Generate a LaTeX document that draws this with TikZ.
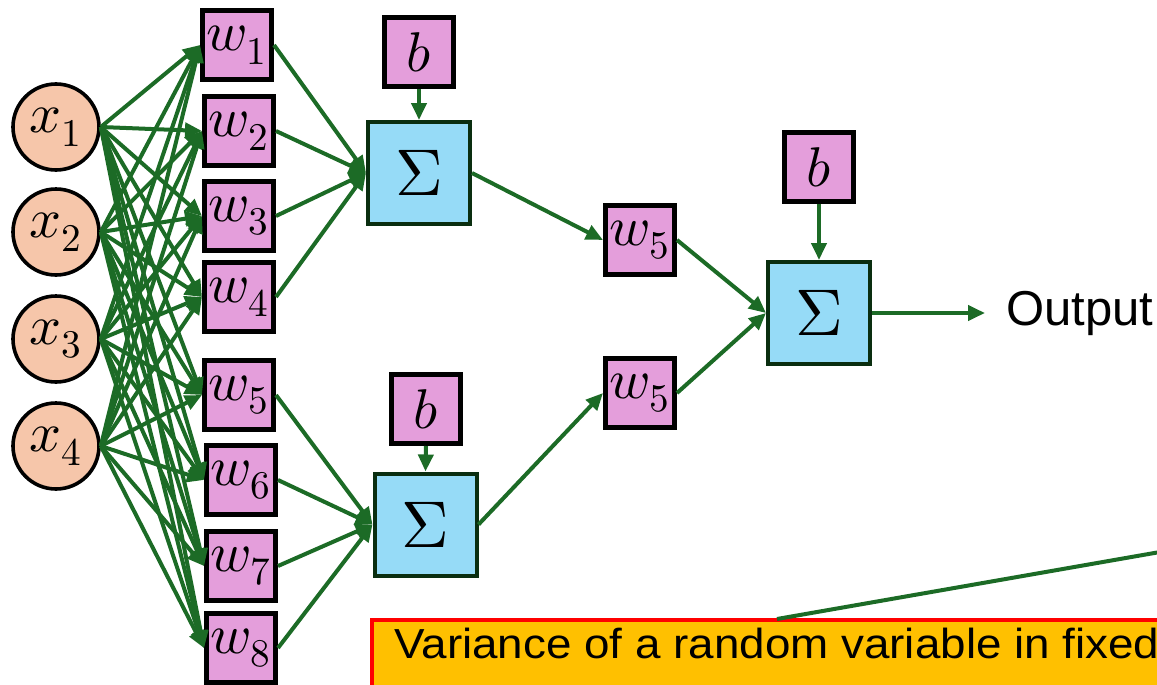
\documentclass[tikz,border=0pt]{standalone}
\usepackage{fontspec}
\usepackage{unicode-math}
\setmathfont{Latin Modern Math}
\usetikzlibrary{arrows.meta}
\newfontfamily\labelfont{Liberation Sans}
\newfontfamily\boxfont[FakeStretch=1.09]{Liberation Sans}
\definecolor{peach}{HTML}{F6C6AA}
\definecolor{wpink}{HTML}{E49EDB}
\definecolor{sblue}{HTML}{96DBF7}
\definecolor{agreen}{HTML}{1C6B26}
\definecolor{dgreen}{HTML}{0A2E10}
\definecolor{borange}{HTML}{FFC000}
\definecolor{bred}{HTML}{FF0000}
\tikzset{
  inp/.style={circle, draw=black, line width=1.8pt, fill=peach, minimum size=43pt, inner sep=0pt, font=\fontsize{28}{32}\selectfont},
  wbox/.style={rectangle, draw=black, line width=2.5pt, fill=wpink, minimum size=34.5pt, inner sep=0pt, font=\fontsize{28}{32}\selectfont},
  sbox/.style={rectangle, draw=dgreen, line width=2pt, fill=sblue, minimum size=51pt, inner sep=0pt, font=\fontsize{33}{37}\selectfont},
  conn/.style={draw=agreen, line width=2pt, -{Triangle[length=8.5pt,width=7.5pt]}},
  plainline/.style={draw=agreen, line width=2pt},
}
\begin{document}
\begin{tikzpicture}[x=0.5pt,y=-0.5pt]
\useasboundingbox (0,0) rectangle (1157,685);
% orange box (drawn first, lies at the bottom)
\fill[borange] (372,620) rectangle (1200,720);
\draw[bred, line width=2.2pt] (1200,620) -- (372,620) -- (372,720);
\node[anchor=base west, inner sep=0pt, font=\boxfont\fontsize{21}{25}\selectfont] (vartext) at (394,658) {Variance of a random variable in fixed};
\coordinate (la) at (777,619);
\coordinate (lb) at (1160,552);
\draw[plainline] (la) -- (lb);
% inputs
\node[inp] (x1) at (56,127) {$x_1$};
\node[inp] (x2) at (56,232) {$x_2$};
\node[inp] (x3) at (56,339) {$x_3$};
\node[inp] (x4) at (56,446) {$x_4$};
% weights
\node[wbox] (w1) at (237,45) {$w_1$};
\node[wbox] (w2) at (239,131) {$w_2$};
\node[wbox] (w3) at (239,216) {$w_3$};
\node[wbox] (w4) at (239,297) {$w_4$};
\node[wbox] (w5) at (239,395) {$w_5$};
\node[wbox] (w6) at (241,480) {$w_6$};
\node[wbox] (w7) at (241,566) {$w_7$};
\node[wbox] (w8) at (241,648) {$w_8$};
% sums
\node[sbox] (s1) at (419,173) {$\Sigma$};
\node[sbox] (s2) at (425.5,524.5) {$\Sigma$};
\node[sbox] (s3) at (819,313) {$\Sigma$};
% biases
\node[wbox] (b1) at (419,52) {$b$};
\node[wbox] (b2) at (426,409) {$b$};
\node[wbox] (b3) at (819,167) {$b$};
% second layer weights
\node[wbox] (v1) at (640,240) {$w_5$};
\node[wbox] (v2) at (640,393) {$w_5$};
% output
\coordinate (out) at (985,313);
\node[anchor=west, inner sep=0pt, font=\labelfont\fontsize{24.5}{28}\selectfont] (outtext) at (1006,313) {Output};
% connectors input -> weights
\foreach \i in {1,2,3,4}{
  \foreach \j in {1,...,8}{
    \draw[conn] (x\i.east) -- (w\j.west);
  }
}
\foreach \j in {1,2,3,4}{ \draw[conn] (w\j.east) -- (s1.west); }
\foreach \j in {5,6,7,8}{ \draw[conn] (w\j.east) -- (s2.west); }
\draw[conn] (b1.south) -- (s1.north);
\draw[conn] (b2.south) -- (s2.north);
\draw[conn] (b3.south) -- (s3.north);
\draw[conn] (s1.east) -- (v1.west);
\draw[conn] (s2.east) -- (v2.west);
\draw[conn] (v1.east) -- (s3.west);
\draw[conn] (v2.east) -- (s3.west);
\draw[conn] (s3.east) -- (out);
\end{tikzpicture}
\end{document}
